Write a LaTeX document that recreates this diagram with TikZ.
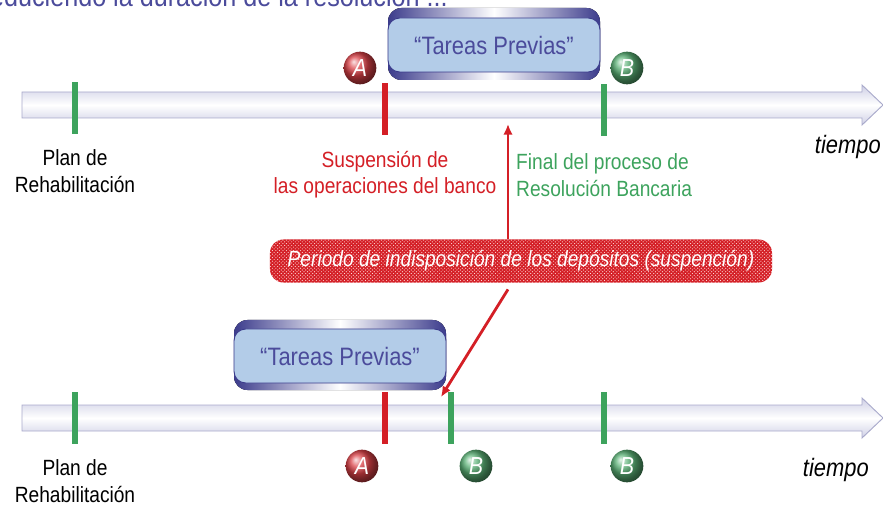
\documentclass[tikz,border=0pt]{standalone}
\usepackage{fontspec}
\setmainfont{Liberation Sans}[FakeStretch=0.87]
\usetikzlibrary{positioning,patterns,shadings,arrows.meta}
\definecolor{tpblue}{HTML}{B3CCE8}
\definecolor{tpdark}{HTML}{3C3C8C}
\definecolor{txtblue}{HTML}{4B4B9B}
\definecolor{mkred}{HTML}{D41F26}
\definecolor{mkgreen}{HTML}{3DA35D}
\definecolor{barline}{HTML}{A9AACB}
\definecolor{barfill}{HTML}{CFD0E6}
\tikzset{
  hito/.style={rectangle, inner sep=0, minimum width=0.18cm, minimum height=1.58cm},
  ball/.style={circle, inner sep=0, minimum size=0.98cm, text=white, font=\fontsize{21}{21}\selectfont\itshape},
  tarea/.style={rectangle, rounded corners=0.35cm, draw=tpdark, line width=0.8pt, fill=tpblue, text=txtblue,
    minimum width=6.36cm, minimum height=1.62cm, font=\fontsize{21.5}{21.5}\selectfont},
  etiqueta/.style={rectangle, draw=none, align=center, inner sep=0, font=\fontsize{18.8}{23}\selectfont},
  flecha/.style={-{Latex[length=9pt,width=8pt]}, mkred, line width=2.4pt}
}

\begin{document}
\begin{tikzpicture}[x=0.03cm, y=-0.03cm]
  \useasboundingbox (0,0) rectangle (883,509);

  % Titulo (cortado arriba)
  \node[anchor=base east, inner sep=0, text=txtblue, font=\fontsize{24.7}{25}\selectfont] (titulo) at (448,7)
    {Reduciendo la duración de la resolución ...};

  % Lineas de tiempo
  \foreach \y in {105,418}
    \draw[barline, line width=0.8pt, top color=barfill, bottom color=barfill, middle color=white]
      (22,\y-13) -- (862,\y-13) -- (862,\y-20) -- (883,\y) -- (862,\y+20) -- (862,\y+13) -- (22,\y+13) -- cycle;

  % Hitos superiores
  \node[hito, fill=mkgreen] (plan1) at (75,108) {};
  \node[hito, fill=mkred] (susp1) at (385,109) {};
  \node[hito, fill=mkgreen] (fin1) at (604,110) {};
  \node[ball, shading=ball, ball color=mkred!85!white] (a1) at (360,68) {A};
  \node[ball, shading=ball, ball color=mkgreen!85!white] (b1) at (627,68) {B};

  % Tareas previas arriba
  \fill[rounded corners=0.4cm, left color=tpdark, right color=tpdark, middle color=white] (388,8) rectangle (600,80);
  \node[tarea] (tp1) at (494,45) {“Tareas Previas”};

  % Etiquetas superiores
  \node[etiqueta, below=0.45cm of plan1] (lplan1) {Plan de\\Rehabilitación};
  \node[etiqueta, text=mkred, below=0.45cm of susp1] (lsusp1) {Suspensión de\\las operaciones del banco};
  \node[etiqueta, text=mkgreen, align=left, anchor=north west] (lfin1) at (516,153) {Final del proceso de\\Resolución Bancaria};
  \node[etiqueta, font=\fontsize{21.5}{21.5}\selectfont\itshape, anchor=base east] (tiempo1) at (881,154) {tiempo};

  % Periodo de indisposicion
  \node[rectangle, rounded corners=0.4cm, preaction={fill=mkred}, pattern=crosshatch dots, pattern color=red!15!white,
    minimum width=15.06cm, minimum height=1.29cm, text=white, font=\fontsize{18.8}{20}\selectfont\itshape] (periodo) at (521,261)
    {Periodo de indisposición de los depósitos (suspención)};

  % Hitos inferiores
  \node[hito, fill=mkgreen] (plan2) at (75,418) {};
  \node[hito, fill=mkred] (susp2) at (385,418) {};
  \node[hito, fill=mkgreen] (fin2) at (451,418) {};
  \node[hito, fill=mkgreen] (fin3) at (604,418) {};
  \node[ball, shading=ball, ball color=mkred!85!white] (a2) at (362,466) {A};
  \node[ball, shading=ball, ball color=mkgreen!85!white] (b2) at (476,466) {B};
  \node[ball, shading=ball, ball color=mkgreen!85!white] (b3) at (627,466) {B};

  % Tareas previas abajo
  \fill[rounded corners=0.4cm, left color=tpdark, right color=tpdark, middle color=white] (234,320) rectangle (446,390);
  \node[tarea] (tp2) at (340,356) {“Tareas Previas”};

  % Etiquetas inferiores
  \node[etiqueta, below=0.45cm of plan2] (lplan2) {Plan de\\Rehabilitación};
  \node[etiqueta, font=\fontsize{21.5}{21.5}\selectfont\itshape, anchor=base east] (tiempo2) at (869,476) {tiempo};

  % Flechas
  \coordinate (punta1) at (508,124);
  \coordinate (punta2) at (441,397);
  \draw[flecha] (periodo.north -| punta1) -- (punta1);
  \draw[flecha] ([yshift=-0.2cm]periodo.south -| punta1) -- (punta2);
\end{tikzpicture}
\end{document}
